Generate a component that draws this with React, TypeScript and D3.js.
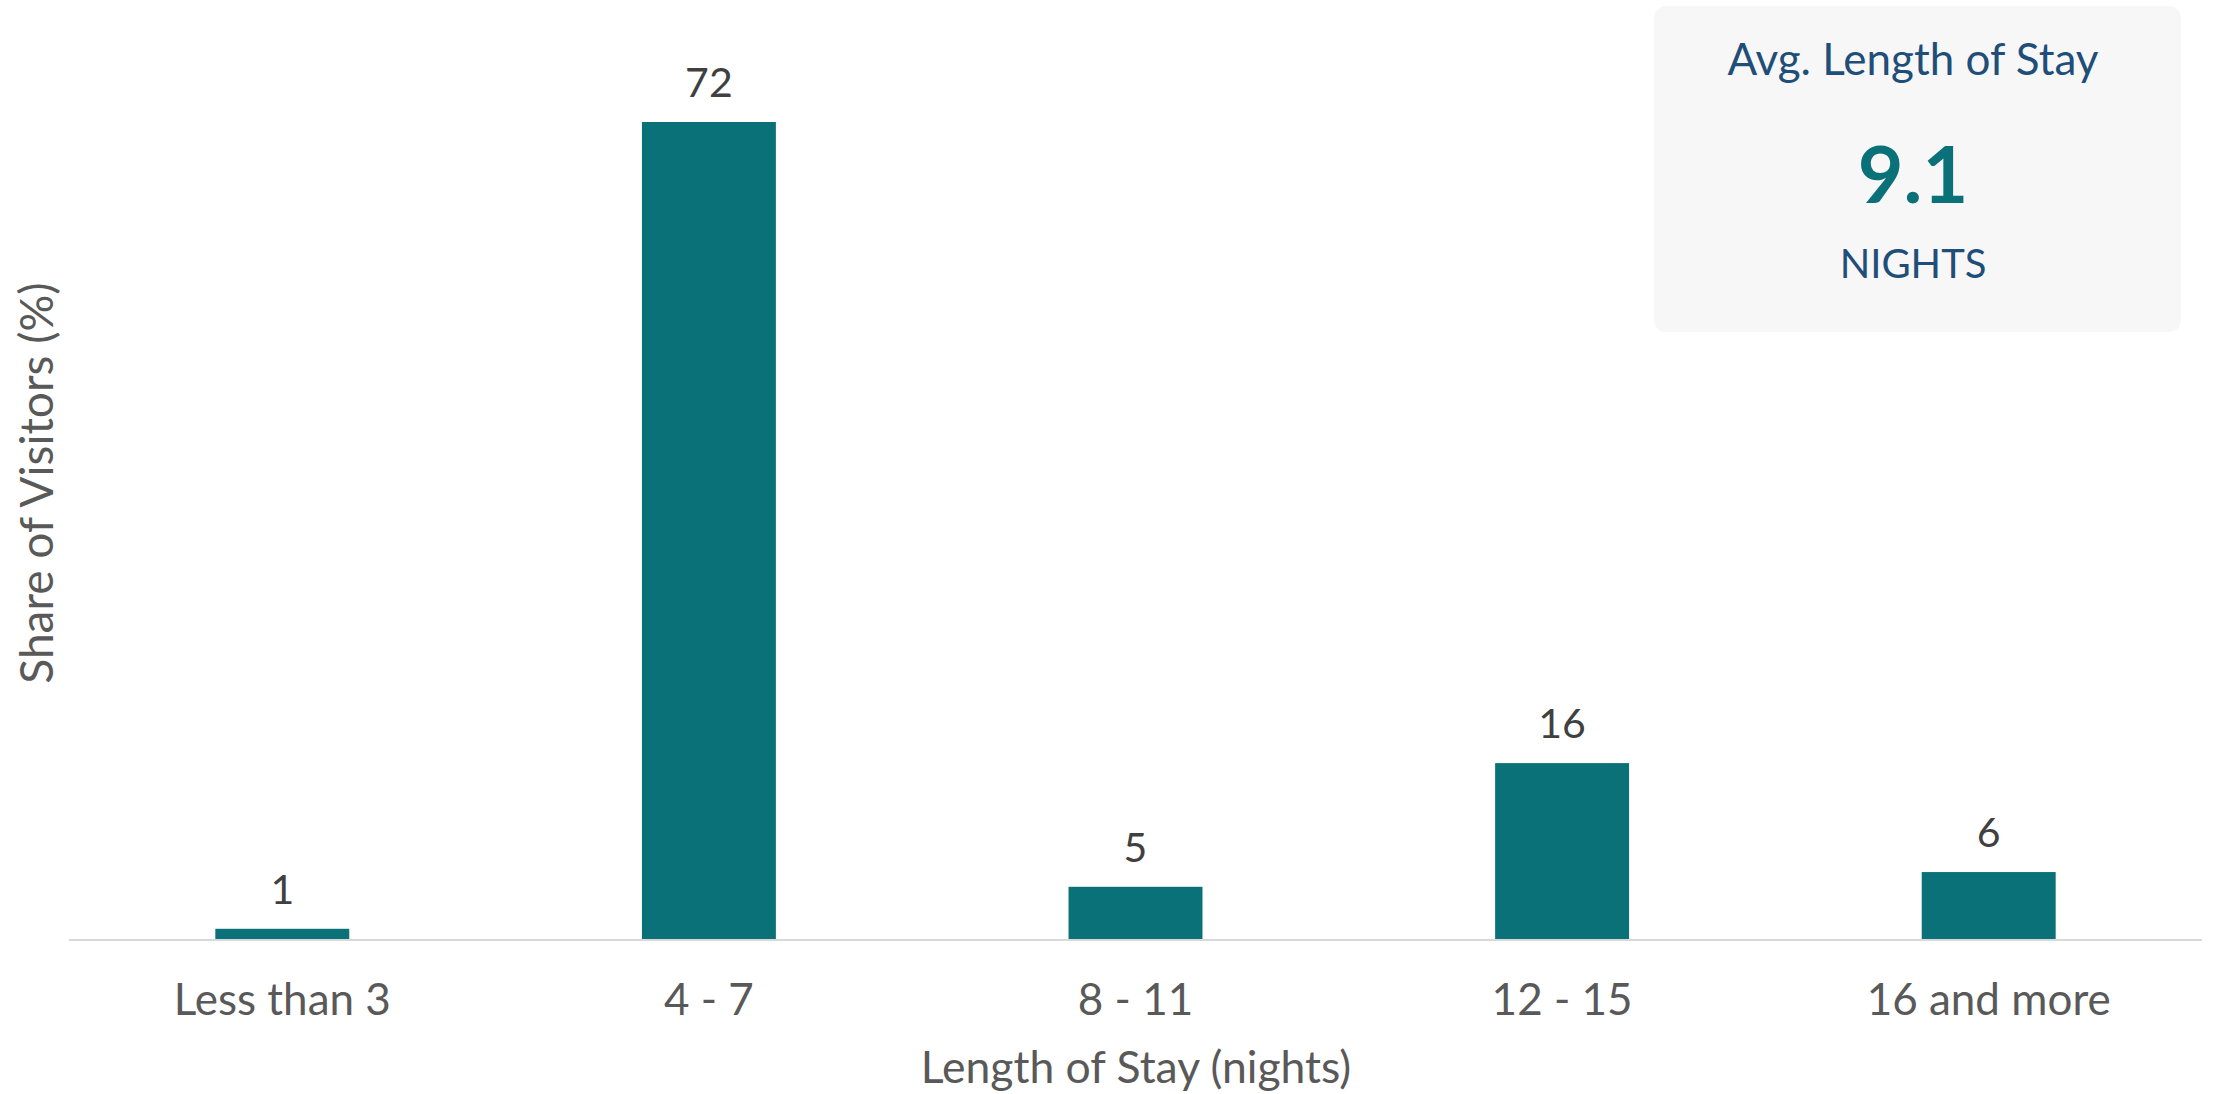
import React from "react";
import * as d3 from "d3";

const categories = ["Less than 3", "4 - 7", "8 - 11", "12 - 15", "16 and more"];
const shares = [0.9, 72.0, 4.6, 15.5, 5.9];
const avgTitle = "Avg. Length of Stay";
const avgValue = 9.1;
const avgUnit = "NIGHTS";
const xTitle = "Length of Stay (nights)";
const yTitle = "Share of Visitors (%)";

const W = 2216;
const H = 1094;
const FONT = "Lato, 'Open Sans', sans-serif";
const TEAL = "#0b7178";
const NAVY = "#1f4e79";

export default function App() {
  const x = d3
    .scaleBand<string>()
    .domain(categories)
    .range([69, 2202])
    .paddingInner(0.686)
    .paddingOuter(0.343);
  const y = d3.scaleLinear().domain([0, 72]).range([939, 122]);
  const fmt = d3.format(".0f");

  return (
    <svg
      width={W}
      height={H}
      style={{ position: "absolute", left: 0, top: 0, background: "#fff" }}
      fontFamily={FONT}
    >
      {categories.map((c, i) => (
        <g key={c}>
          <rect
            x={x(c)}
            y={y(shares[i])}
            width={x.bandwidth()}
            height={y(0) - y(shares[i])}
            fill={TEAL}
          />
          <text
            x={(x(c) as number) + x.bandwidth() / 2}
            y={y(shares[i]) - 25}
            textAnchor="middle"
            fontSize={41}
            fill="#404040"
          >
            {fmt(shares[i])}
          </text>
          <text
            x={(x(c) as number) + x.bandwidth() / 2}
            y={1015}
            textAnchor="middle"
            fontSize={44}
            fill="#595959"
          >
            {c}
          </text>
        </g>
      ))}
      <line x1={69} x2={2202} y1={940} y2={940} stroke="#d9d9d9" strokeWidth={2} />
      <text x={1136} y={1083} textAnchor="middle" fontSize={44.5} fill="#595959">
        {xTitle}
      </text>
      <text
        transform={`translate(53,483) rotate(-90)`}
        textAnchor="middle"
        fontSize={46}
        fill="#595959"
      >
        {yTitle}
      </text>
      <rect x={1654} y={6} width={527} height={326} rx={12} fill="#f7f7f7" />
      <text x={1913} y={75} textAnchor="middle" fontSize={44} fill={NAVY}>
        {avgTitle}
      </text>
      <text x={1913} y={203} textAnchor="middle" fontSize={79} fontWeight={700} fill={TEAL}>
        {avgValue.toFixed(1)}
      </text>
      <text x={1913} y={278} textAnchor="middle" fontSize={40} fill={NAVY}>
        {avgUnit}
      </text>
    </svg>
  );
}
